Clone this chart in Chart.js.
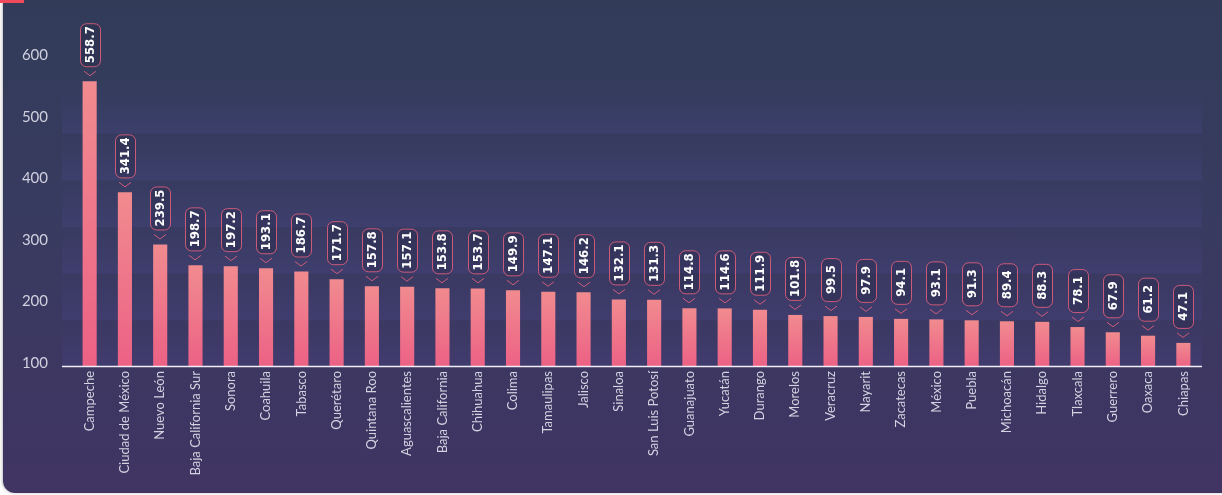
<!DOCTYPE html>
<html lang="es">
<head>
<meta charset="utf-8">
<title>Valores por entidad</title>
<script src="https://cdn.jsdelivr.net/npm/chart.js@4.4.1/dist/chart.umd.min.js"></script>
<style>
    html, body { margin: 0; padding: 0; background: #fff; width: 1222px; height: 495px; overflow: hidden; }
    .painel {
        position: absolute; left: 3px; top: -20px; width: 1250px; height: 513px;
        border-radius: 12px;
        background: linear-gradient(180deg, #313c58 0%, #383b60 45%, #403463 100%);
        box-shadow: -1px 0 3px rgba(0, 0, 0, 0.25);
    }
    .selo { position: absolute; left: 0; top: 0; width: 24px; height: 3px; background: #ef4b5c; }
    #caixa { position: absolute; left: 0; top: 0; width: 1222px; height: 495px; }
</style>
</head>
<body>
<div class="painel"></div>
<div class="selo"></div>
<div id="caixa"><canvas id="grafico"></canvas></div>

<script>
// ============================================================================
// DADOS
// ============================================================================

const entidades = [
    'Campeche', 'Ciudad de México', 'Nuevo León', 'Baja California Sur', 'Sonora',
    'Coahuila', 'Tabasco', 'Querétaro', 'Quintana Roo', 'Aguascalientes',
    'Baja California', 'Chihuahua', 'Colima', 'Tamaulipas', 'Jalisco',
    'Sinaloa', 'San Luis Potosí', 'Guanajuato', 'Yucatán', 'Durango',
    'Morelos', 'Veracruz', 'Nayarit', 'Zacatecas', 'México',
    'Puebla', 'Michoacán', 'Hidalgo', 'Tlaxcala', 'Guerrero',
    'Oaxaca', 'Chiapas'
];

const valores = [
    558.7, 341.4, 239.5, 198.7, 197.2,
    193.1, 186.7, 171.7, 157.8, 157.1,
    153.8, 153.7, 149.9, 147.1, 146.2,
    132.1, 131.3, 114.8, 114.6, 111.9,
    101.8, 99.5, 97.9, 94.1, 93.1,
    91.3, 89.4, 88.3, 78.1, 67.9,
    61.2, 47.1
];

// rótulos do eixo vertical (como aparecem no original)
const ticksEixo = [100, 200, 300, 400, 500, 600];

// ============================================================================
// PLUGINS
// ============================================================================

// faixas horizontais do fundo
const faixasFundo = {
    id: 'faixasFundo',
    beforeDatasetsDraw(chart) {
        const { ctx, chartArea: a } = chart;
        const esq = a.left - 10;
        const dir = a.right + 1;
        const topo = a.top + 47;
        const n = 6;
        const h = (a.bottom - topo) / n;
        ctx.save();
        for (let i = 0; i < n; i++) {
            const y0 = topo + i * h;
            const g = ctx.createLinearGradient(0, y0, 0, y0 + h);
            g.addColorStop(0, 'rgba(90, 85, 170, 0.02)');
            g.addColorStop(1, 'rgba(95, 90, 190, 0.15)');
            ctx.fillStyle = g;
            ctx.fillRect(esq, y0, dir - esq, h);
        }
        ctx.restore();
    },
    afterDatasetsDraw(chart) {
        const { ctx, chartArea: a } = chart;
        ctx.save();
        ctx.strokeStyle = '#f3eef5';
        ctx.lineWidth = 1.5;
        ctx.beginPath();
        ctx.moveTo(a.left - 10, a.bottom - 0.5);
        ctx.lineTo(a.right + 1, a.bottom - 0.5);
        ctx.stroke();
        ctx.restore();
    }
};

// etiqueta com o valor sobre cada barra
const etiquetasValor = {
    id: 'etiquetasValor',
    afterDatasetsDraw(chart) {
        const { ctx } = chart;
        const meta = chart.getDatasetMeta(0);
        ctx.save();
        meta.data.forEach((barra, i) => {
            const x = Math.round(barra.x);
            const topo = barra.y;
            const alt = 43, larg = 20;
            const base = topo - 15;

            ctx.strokeStyle = 'rgba(230, 96, 126, 0.85)';
            ctx.lineWidth = 1;

            // seta
            ctx.beginPath();
            ctx.moveTo(x - 6, topo - 10);
            ctx.lineTo(x, topo - 5.5);
            ctx.lineTo(x + 6, topo - 10);
            ctx.stroke();

            // caixa
            ctx.beginPath();
            ctx.roundRect(x - larg / 2 + 0.5, base - alt + 0.5, larg, alt, 6);
            ctx.fillStyle = 'rgba(36, 36, 66, 0.3)';
            ctx.fill();
            ctx.stroke();

            // texto
            ctx.save();
            ctx.translate(x + 1, base - alt / 2);
            ctx.rotate(-Math.PI / 2);
            ctx.fillStyle = '#ffffff';
            ctx.font = "bold 13px 'DejaVu Sans Condensed', 'DejaVu Sans Mono', monospace";
            ctx.textAlign = 'center';
            ctx.textBaseline = 'middle';
            ctx.fillText(valores[i].toFixed(1), 0, 0);
            ctx.restore();
        });
        ctx.restore();
    }
};

// ============================================================================
// GRÁFICO
// ============================================================================

function corBarra(context) {
    const chart = context.chart;
    if (!chart.chartArea) return '#ef7a8b';
    const escala = chart.scales.yBarras;
    const yTopo = escala.getPixelForValue(context.raw);
    const yBase = escala.getPixelForValue(0);
    const g = chart.ctx.createLinearGradient(0, yTopo, 0, yBase);
    g.addColorStop(0, '#f18b8f');
    g.addColorStop(1, '#ec6185');
    return g;
}

function criarGrafico() {
    const ctx = document.getElementById('grafico');
    if (!ctx) return;

    new Chart(ctx, {
        type: 'bar',
        data: {
            labels: entidades,
            datasets: [{
                data: valores,
                yAxisID: 'yBarras',
                backgroundColor: corBarra,
                borderWidth: 0,
                categoryPercentage: 1,
                barPercentage: 0.4
            }]
        },
        options: {
            responsive: true,
            maintainAspectRatio: false,
            animation: false,
            events: [],
            layout: { padding: { top: 40, right: 21, left: 0, bottom: 0 } },
            plugins: {
                legend: { display: false },
                tooltip: { enabled: false }
            },
            scales: {
                x: {
                    offset: true,
                    grid: { display: false, drawTicks: false },
                    border: { display: false },
                    ticks: {
                        autoSkip: false,
                        minRotation: 90,
                        maxRotation: 90,
                        padding: 4,
                        color: '#d2d2e0',
                        font: { family: "Lato, 'DejaVu Sans Condensed', sans-serif", size: 13 }
                    },
                    afterFit(escala) { escala.height = 128; }
                },
                y: {
                    position: 'left',
                    min: 93,
                    max: 625.2,
                    grid: { display: false, drawTicks: false },
                    border: { display: false },
                    ticks: {
                        includeBounds: false,
                        padding: 24,
                        color: '#d0d0de',
                        font: { family: "Lato, sans-serif", size: 15 }
                    },
                    afterBuildTicks(escala) {
                        escala.ticks = ticksEixo.map(v => ({ value: v }));
                    },
                    afterFit(escala) { escala.width = 72; }
                },
                yBarras: {
                    display: false,
                    position: 'left',
                    min: 0,
                    max: 639.3
                }
            }
        },
        plugins: [faixasFundo, etiquetasValor]
    });
}

document.addEventListener('DOMContentLoaded', criarGrafico);
</script>
</body>
</html>
